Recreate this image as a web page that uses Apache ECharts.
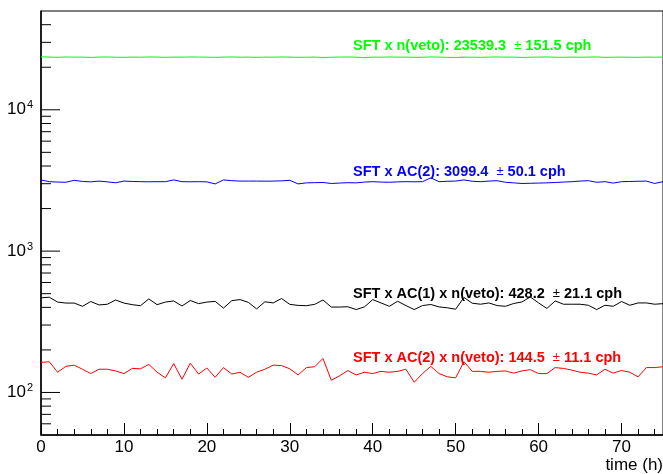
<!DOCTYPE html>
<html lang="en">
<head>
    <meta charset="UTF-8">
    <title>Coincidence rates vs time</title>
    <script src="https://cdn.jsdelivr.net/npm/echarts@6/dist/echarts.min.js"></script>
    <style>
        * { margin: 0; padding: 0; }
        #chart { width: 663px; height: 474px; background: #fff; }
    </style>
</head>
<body>
    <div id="chart"></div>
    <script>
        // time in hours
        const hours = [0, 1, 2, 3, 4, 5, 6, 7, 8, 9, 10, 11, 12, 13, 14, 15, 16, 17, 18, 19,
            20, 21, 22, 23, 24, 25, 26, 27, 28, 29, 30, 31, 32, 33, 34, 35, 36, 37, 38, 39,
            40, 41, 42, 43, 44, 45, 46, 47, 48, 49, 50, 51, 52, 53, 54, 55, 56, 57, 58, 59,
            60, 61, 62, 63, 64, 65, 66, 67, 68, 69, 70, 71, 72, 73, 74, 75];

        // SFT x n(veto)
        const sftVeto = [23700, 23600, 23500, 23650, 23550, 23600, 23450, 23600, 23650, 23550,
            23500, 23600, 23550, 23650, 23600, 23500, 23600, 23550, 23650, 23600,
            23550, 23500, 23600, 23650, 23550, 23600, 23500, 23600, 23550, 23650,
            23600, 23500, 23550, 23600, 23450, 23550, 23600, 23650, 23550, 23400,
            23600, 23550, 23650, 23550, 23600, 23500, 23550, 23650, 23600, 23500,
            23450, 23600, 23550, 23500, 23600, 23650, 23550, 23600, 23450, 23550,
            23600, 23650, 23550, 23500, 23600, 23550, 23600, 23650, 23500, 23550,
            23600, 23550, 23500, 23600, 23550, 23600];

        // SFT x AC(2)
        const sftAc2 = [3189, 3100, 3080, 3070, 3170, 3110, 3090, 3130, 3090, 3045,
            3130, 3110, 3100, 3095, 3100, 3100, 3190, 3100, 3095, 3100,
            3090, 2990, 3190, 3150, 3130, 3130, 3130, 3125, 3130, 3140,
            3170, 2990, 3040, 3050, 3060, 3010, 3030, 3050, 3040, 3080,
            3100, 3080, 3070, 3090, 3100, 3095, 3100, 3300, 3100, 3120,
            3130, 3190, 3120, 3100, 3130, 3150, 3070, 3040, 3010, 3020,
            3030, 3040, 3060, 3080, 3100, 3130, 3150, 3070, 3100, 3030,
            3100, 3110, 3120, 3130, 3010, 3100];

        // SFT x AC(1) x n(veto)
        const sftAc1Veto = [467, 472, 436, 429, 429, 407, 440, 416, 421, 451,
            429, 418, 411, 459, 418, 436, 444, 409, 447, 425,
            436, 441, 395, 446, 454, 434, 390, 438, 430, 462,
            420, 413, 411, 420, 451, 402, 402, 404, 386, 403,
            454, 430, 407, 442, 412, 386, 412, 419, 403, 397,
            388, 470, 428, 421, 430, 412, 407, 426, 437, 474,
            430, 393, 444, 421, 421, 421, 414, 386, 414, 407,
            440, 414, 430, 430, 421, 425];

        // SFT x AC(2) x n(veto)
        const sftAc2Veto = [163, 165, 139, 153, 156, 146, 136, 146, 146, 142,
            136, 148, 147, 158, 139, 127, 160, 124, 161, 135,
            149, 128, 150, 135, 139, 128, 139, 146, 156, 155,
            147, 133, 150, 152, 174, 122, 131, 143, 133, 139,
            136, 141, 139, 141, 146, 118, 136, 153, 136, 129,
            127, 165, 141, 141, 139, 141, 142, 137, 142, 145,
            136, 136, 150, 148, 144, 139, 137, 133, 146, 137,
            143, 139, 129, 150, 150, 152];

        const yMajorTicks = [100, 1000, 10000];
        const yMinorTicks = [60, 70, 80, 90, 200, 300, 400, 500, 600, 700, 800, 900,
            2000, 3000, 4000, 5000, 6000, 7000, 8000, 9000, 20000, 30000, 40000];

        const seriesInfo = [
            { name: 'SFT x n(veto)', values: sftVeto, color: '#00ff00', mean: '23539.3', err: '151.5', top: 38 },
            { name: 'SFT x AC(2)', values: sftAc2, color: '#0000ff', mean: '3099.4', err: '50.1', top: 164 },
            { name: 'SFT x AC(1) x n(veto)', values: sftAc1Veto, color: '#000000', mean: '428.2', err: '21.1', top: 286 },
            { name: 'SFT x AC(2) x n(veto)', values: sftAc2Veto, color: '#ff0000', mean: '144.5', err: '11.1', top: 350 }
        ];

        const font = 'Liberation Sans, Arial, Helvetica, sans-serif';
        const chart = echarts.init(document.getElementById('chart'), null, { renderer: 'canvas' });

        function tickSeries(values, len) {
            return {
                type: 'custom',
                silent: true,
                clip: false,
                z: 5,
                data: values.map(v => [0, v]),
                renderItem: function (params, api) {
                    const p = api.coord([0, api.value(1)]);
                    return {
                        type: 'line',
                        shape: { x1: p[0], y1: p[1], x2: p[0] + len, y2: p[1] },
                        style: { stroke: '#000', lineWidth: 1 }
                    };
                }
            };
        }

        const option = {
            animation: false,
            backgroundColor: '#fff',
            grid: {
                left: 41, top: 11, right: 0, bottom: 39,
                show: true, borderColor: '#000', borderWidth: 1,
                outerBoundsMode: 'none'
            },
            xAxis: {
                type: 'value',
                min: 0, max: 75, interval: 10,
                name: 'time (h)',
                nameLocation: 'end',
                nameGap: 0,
                nameTextStyle: {
                    fontFamily: font, fontSize: 17, color: '#000',
                    align: 'right', verticalAlign: 'top', padding: [22, 0, 0, 0]
                },
                axisLine: { lineStyle: { color: '#000', width: 1.5 } },
                axisTick: { inside: true, length: 12, lineStyle: { color: '#000' } },
                minorTick: { show: true, splitNumber: 5, length: 6, lineStyle: { color: '#000' } },
                splitLine: { show: false },
                axisLabel: {
                    fontFamily: font, fontSize: 17, color: '#000', margin: 4,
                    showMaxLabel: false,
                    formatter: v => (v % 10 === 0 ? String(v) : '')
                }
            },
            yAxis: {
                type: 'log',
                logBase: 10,
                min: 50, max: 50000,
                axisLine: { lineStyle: { color: '#000', width: 1.5 } },
                axisTick: { show: false },
                splitLine: { show: false },
                axisLabel: {
                    margin: 8,
                    showMinLabel: false,
                    showMaxLabel: false,
                    formatter: function (v) {
                        const e = Math.log10(v);
                        const n = Math.round(e);
                        if (Math.abs(e - n) > 1e-6) return '';
                        return '{b|10}{s|' + n + '}';
                    },
                    rich: {
                        b: { fontFamily: font, fontSize: 17, color: '#000' },
                        s: { fontFamily: font, fontSize: 11, color: '#000', padding: [0, 0, 9, 1] }
                    }
                }
            },
            graphic: seriesInfo.map(s => ({
                type: 'text',
                left: 353,
                top: s.top,
                z: 100,
                style: {
                    text: '{b|' + s.name + ': ' + s.mean + '  }{pm|±}{b| ' + s.err + ' cph}',
                    rich: {
                        b: { fontFamily: font, fontSize: 14.5, fontWeight: 'bold', fill: s.color },
                        pm: { fontFamily: font, fontSize: 13, fontWeight: 'normal', fill: s.color }
                    }
                }
            })),
            series: seriesInfo.map(s => ({
                name: s.name,
                type: 'line',
                showSymbol: false,
                symbol: 'none',
                silent: true,
                data: hours.map((h, i) => [h, s.values[i]]),
                lineStyle: { color: s.color, width: 1 }
            })).concat([tickSeries(yMajorTicks, 19), tickSeries(yMinorTicks, 10)])
        };

        chart.setOption(option);
    </script>
</body>
</html>
